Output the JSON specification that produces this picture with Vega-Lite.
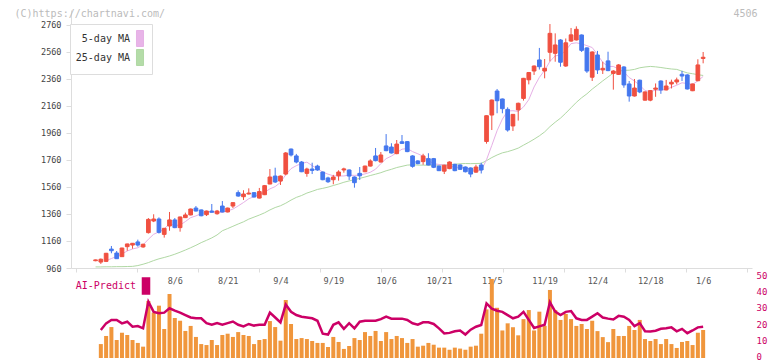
{
 "$schema": "https://vega.github.io/schema/vega-lite/v6.json",
 "width": 681, "height": 348,
 "autosize": {"type": "none"},
 "padding": {"left": 71, "top": 10, "right": 20, "bottom": 3},
 "background": "white",
 "config": {"view": {"stroke": null}, "axis": {"labelFont": "DejaVu Sans Mono", "titleFont": "DejaVu Sans Mono", "grid": false, "labelOverlap": false}, "legend": {"labelFont": "DejaVu Sans Mono"}},
 "data": {"values": [
{"d":"2025-07-15","o":1014,"h":1022,"l":1010,"c":1020,"m5":null,"m25":968,"vol":null,"ai":null},
{"d":"2025-07-16","o":1004,"h":1030,"l":990,"c":1025,"m5":null,"m25":968,"vol":8.6,"ai":17.3},
{"d":"2025-07-17","o":1009,"h":1072,"l":1004,"c":1069,"m5":1015,"m25":969,"vol":13.6,"ai":21.4},
{"d":"2025-07-18","o":1100,"h":1123,"l":1069,"c":1088,"m5":1030,"m25":969,"vol":19.1,"ai":23.5},
{"d":"2025-07-22","o":1071,"h":1086,"l":1027,"c":1029,"m5":1046,"m25":970,"vol":11.1,"ai":23.5},
{"d":"2025-07-23","o":1044,"h":1110,"l":1042,"c":1108,"m5":1064,"m25":970,"vol":15.6,"ai":21.4},
{"d":"2025-07-24","o":1118,"h":1140,"l":1088,"c":1138,"m5":1086,"m25":971,"vol":14.2,"ai":22.4},
{"d":"2025-07-25","o":1130,"h":1145,"l":1103,"c":1143,"m5":1101,"m25":972,"vol":11.1,"ai":19.3},
{"d":"2025-07-28","o":1153,"h":1170,"l":1118,"c":1130,"m5":1110,"m25":978,"vol":9.3,"ai":19.7},
{"d":"2025-07-29","o":1116,"h":1140,"l":1110,"c":1136,"m5":1131,"m25":988,"vol":7.0,"ai":18.3},
{"d":"2025-07-30","o":1222,"h":1330,"l":1215,"c":1320,"m5":1173,"m25":1000,"vol":35.2,"ai":34.8},
{"d":"2025-07-31","o":1308,"h":1358,"l":1300,"c":1323,"m5":1210,"m25":1015,"vol":28.0,"ai":28.5},
{"d":"2025-08-01","o":1323,"h":1335,"l":1215,"c":1224,"m5":1227,"m25":1028,"vol":32.3,"ai":27.6},
{"d":"2025-08-04","o":1209,"h":1256,"l":1185,"c":1254,"m5":1251,"m25":1038,"vol":17.9,"ai":28.0},
{"d":"2025-08-05","o":1271,"h":1375,"l":1236,"c":1316,"m5":1287,"m25":1049,"vol":39.5,"ai":30.7},
{"d":"2025-08-06","o":1316,"h":1330,"l":1255,"c":1259,"m5":1275,"m25":1062,"vol":24.7,"ai":29.2},
{"d":"2025-08-07","o":1259,"h":1340,"l":1229,"c":1338,"m5":1278,"m25":1077,"vol":23.0,"ai":28.0},
{"d":"2025-08-08","o":1333,"h":1370,"l":1330,"c":1353,"m5":1304,"m25":1093,"vol":16.7,"ai":26.5},
{"d":"2025-08-12","o":1353,"h":1400,"l":1350,"c":1397,"m5":1333,"m25":1110,"vol":19.8,"ai":25.0},
{"d":"2025-08-13","o":1404,"h":1419,"l":1378,"c":1382,"m5":1346,"m25":1128,"vol":13.0,"ai":24.5},
{"d":"2025-08-14","o":1390,"h":1393,"l":1343,"c":1347,"m5":1363,"m25":1148,"vol":8.6,"ai":24.5},
{"d":"2025-08-15","o":1355,"h":1385,"l":1345,"c":1382,"m5":1372,"m25":1165,"vol":8.0,"ai":21.5},
{"d":"2025-08-18","o":1382,"h":1434,"l":1370,"c":1373,"m5":1376,"m25":1183,"vol":11.1,"ai":20.5},
{"d":"2025-08-19","o":1362,"h":1390,"l":1355,"c":1382,"m5":1373,"m25":1205,"vol":8.0,"ai":21.5},
{"d":"2025-08-20","o":1419,"h":1456,"l":1372,"c":1375,"m5":1372,"m25":1236,"vol":14.2,"ai":20.5},
{"d":"2025-08-21","o":1375,"h":1407,"l":1372,"c":1404,"m5":1383,"m25":1252,"vol":15.0,"ai":21.5},
{"d":"2025-08-22","o":1419,"h":1446,"l":1404,"c":1444,"m5":1396,"m25":1269,"vol":13.0,"ai":22.5},
{"d":"2025-08-25","o":1518,"h":1535,"l":1488,"c":1493,"m5":1420,"m25":1286,"vol":16.0,"ai":20.5},
{"d":"2025-08-26","o":1488,"h":1536,"l":1464,"c":1508,"m5":1445,"m25":1302,"vol":14.2,"ai":19.5},
{"d":"2025-08-27","o":1508,"h":1550,"l":1505,"c":1515,"m5":1473,"m25":1322,"vol":13.6,"ai":21.0},
{"d":"2025-08-28","o":1518,"h":1522,"l":1482,"c":1486,"m5":1489,"m25":1337,"vol":8.6,"ai":20.0},
{"d":"2025-08-29","o":1478,"h":1553,"l":1475,"c":1526,"m5":1506,"m25":1352,"vol":11.1,"ai":20.5},
{"d":"2025-09-01","o":1503,"h":1575,"l":1500,"c":1570,"m5":1521,"m25":1369,"vol":11.7,"ai":20.5},
{"d":"2025-09-02","o":1582,"h":1693,"l":1580,"c":1634,"m5":1546,"m25":1390,"vol":22.8,"ai":28.0},
{"d":"2025-09-03","o":1641,"h":1703,"l":1590,"c":1597,"m5":1563,"m25":1408,"vol":19.1,"ai":25.0},
{"d":"2025-09-04","o":1604,"h":1645,"l":1575,"c":1641,"m5":1594,"m25":1421,"vol":10.7,"ai":22.0},
{"d":"2025-09-05","o":1656,"h":1819,"l":1647,"c":1812,"m5":1651,"m25":1440,"vol":35.8,"ai":33.0},
{"d":"2025-09-08","o":1841,"h":1845,"l":1786,"c":1797,"m5":1696,"m25":1463,"vol":21.0,"ai":28.5},
{"d":"2025-09-09","o":1790,"h":1805,"l":1735,"c":1745,"m5":1718,"m25":1483,"vol":11.7,"ai":26.5},
{"d":"2025-09-10","o":1745,"h":1752,"l":1670,"c":1673,"m5":1734,"m25":1497,"vol":12.3,"ai":25.5},
{"d":"2025-09-11","o":1661,"h":1703,"l":1636,"c":1693,"m5":1744,"m25":1515,"vol":11.7,"ai":25.0},
{"d":"2025-09-12","o":1693,"h":1740,"l":1656,"c":1683,"m5":1718,"m25":1528,"vol":10.5,"ai":24.5},
{"d":"2025-09-16","o":1715,"h":1725,"l":1680,"c":1686,"m5":1696,"m25":1542,"vol":9.3,"ai":23.0},
{"d":"2025-09-17","o":1671,"h":1675,"l":1610,"c":1614,"m5":1670,"m25":1550,"vol":9.3,"ai":15.0},
{"d":"2025-09-18","o":1627,"h":1636,"l":1590,"c":1599,"m5":1655,"m25":1559,"vol":6.8,"ai":14.5},
{"d":"2025-09-19","o":1614,"h":1650,"l":1580,"c":1634,"m5":1643,"m25":1571,"vol":13.0,"ai":20.5},
{"d":"2025-09-22","o":1643,"h":1684,"l":1607,"c":1671,"m5":1641,"m25":1582,"vol":9.9,"ai":22.0},
{"d":"2025-09-24","o":1686,"h":1703,"l":1666,"c":1694,"m5":1642,"m25":1595,"vol":5.6,"ai":18.0},
{"d":"2025-09-25","o":1686,"h":1690,"l":1612,"c":1641,"m5":1648,"m25":1605,"vol":7.4,"ai":21.5},
{"d":"2025-09-26","o":1634,"h":1638,"l":1555,"c":1592,"m5":1646,"m25":1614,"vol":12.3,"ai":18.3},
{"d":"2025-09-29","o":1661,"h":1708,"l":1612,"c":1643,"m5":1648,"m25":1624,"vol":11.1,"ai":22.4},
{"d":"2025-09-30","o":1673,"h":1718,"l":1670,"c":1715,"m5":1657,"m25":1634,"vol":16.0,"ai":23.0},
{"d":"2025-10-01","o":1715,"h":1765,"l":1712,"c":1753,"m5":1669,"m25":1645,"vol":13.6,"ai":23.0},
{"d":"2025-10-02","o":1790,"h":1849,"l":1750,"c":1755,"m5":1692,"m25":1655,"vol":16.7,"ai":23.0},
{"d":"2025-10-03","o":1745,"h":1819,"l":1742,"c":1797,"m5":1733,"m25":1666,"vol":10.5,"ai":24.0},
{"d":"2025-10-06","o":1864,"h":1952,"l":1825,"c":1829,"m5":1770,"m25":1680,"vol":16.0,"ai":25.5},
{"d":"2025-10-07","o":1856,"h":1884,"l":1808,"c":1812,"m5":1789,"m25":1691,"vol":11.7,"ai":24.3},
{"d":"2025-10-08","o":1807,"h":1908,"l":1803,"c":1878,"m5":1814,"m25":1704,"vol":13.6,"ai":24.3},
{"d":"2025-10-09","o":1895,"h":1945,"l":1880,"c":1883,"m5":1840,"m25":1713,"vol":12.3,"ai":24.3},
{"d":"2025-10-10","o":1896,"h":1900,"l":1818,"c":1822,"m5":1845,"m25":1722,"vol":9.3,"ai":23.5},
{"d":"2025-10-14","o":1790,"h":1795,"l":1703,"c":1713,"m5":1822,"m25":1725,"vol":11.7,"ai":21.4},
{"d":"2025-10-15","o":1753,"h":1758,"l":1728,"c":1733,"m5":1806,"m25":1722,"vol":7.0,"ai":20.6},
{"d":"2025-10-16","o":1748,"h":1806,"l":1725,"c":1790,"m5":1788,"m25":1722,"vol":7.6,"ai":22.0},
{"d":"2025-10-17","o":1770,"h":1810,"l":1720,"c":1723,"m5":1756,"m25":1721,"vol":9.3,"ai":22.0},
{"d":"2025-10-20","o":1770,"h":1775,"l":1700,"c":1706,"m5":1733,"m25":1722,"vol":8.2,"ai":21.0},
{"d":"2025-10-21","o":1715,"h":1718,"l":1678,"c":1681,"m5":1727,"m25":1722,"vol":6.4,"ai":18.3},
{"d":"2025-10-22","o":1677,"h":1725,"l":1656,"c":1721,"m5":1724,"m25":1723,"vol":6.4,"ai":15.2},
{"d":"2025-10-23","o":1696,"h":1750,"l":1692,"c":1745,"m5":1715,"m25":1726,"vol":5.1,"ai":15.5},
{"d":"2025-10-24","o":1728,"h":1732,"l":1677,"c":1681,"m5":1707,"m25":1728,"vol":6.4,"ai":16.5},
{"d":"2025-10-27","o":1723,"h":1728,"l":1686,"c":1691,"m5":1704,"m25":1732,"vol":5.8,"ai":17.0},
{"d":"2025-10-28","o":1708,"h":1712,"l":1668,"c":1673,"m5":1702,"m25":1734,"vol":5.1,"ai":14.5},
{"d":"2025-10-29","o":1701,"h":1705,"l":1632,"c":1656,"m5":1689,"m25":1733,"vol":7.0,"ai":17.5},
{"d":"2025-10-30","o":1670,"h":1725,"l":1665,"c":1708,"m5":1682,"m25":1734,"vol":7.6,"ai":19.3},
{"d":"2025-10-31","o":1723,"h":1740,"l":1660,"c":1686,"m5":1683,"m25":1735,"vol":15.0,"ai":20.4},
{"d":"2025-11-04","o":1897,"h":2090,"l":1881,"c":2088,"m5":1762,"m25":1755,"vol":30.0,"ai":33.7},
{"d":"2025-11-05","o":2093,"h":2208,"l":1982,"c":2204,"m5":1868,"m25":1778,"vol":48.8,"ai":30.5},
{"d":"2025-11-06","o":2271,"h":2286,"l":2106,"c":2199,"m5":1977,"m25":1797,"vol":31.0,"ai":29.2},
{"d":"2025-11-07","o":2212,"h":2215,"l":2106,"c":2140,"m5":2063,"m25":1813,"vol":17.0,"ai":28.5},
{"d":"2025-11-10","o":2135,"h":2150,"l":1970,"c":1982,"m5":2123,"m25":1822,"vol":21.4,"ai":26.5},
{"d":"2025-11-11","o":2012,"h":2100,"l":1975,"c":2098,"m5":2125,"m25":1834,"vol":19.0,"ai":24.5},
{"d":"2025-11-12","o":2131,"h":2185,"l":2052,"c":2180,"m5":2120,"m25":1848,"vol":14.0,"ai":25.5},
{"d":"2025-11-13","o":2216,"h":2368,"l":2200,"c":2365,"m5":2153,"m25":1870,"vol":24.0,"ai":28.5},
{"d":"2025-11-14","o":2354,"h":2412,"l":2320,"c":2408,"m5":2207,"m25":1891,"vol":29.6,"ai":23.5},
{"d":"2025-11-17","o":2419,"h":2460,"l":2390,"c":2456,"m5":2301,"m25":1914,"vol":17.0,"ai":18.5},
{"d":"2025-11-18","o":2501,"h":2590,"l":2430,"c":2451,"m5":2372,"m25":1939,"vol":28.6,"ai":19.5},
{"d":"2025-11-19","o":2419,"h":2508,"l":2365,"c":2439,"m5":2424,"m25":1968,"vol":19.8,"ai":20.5},
{"d":"2025-11-20","o":2558,"h":2767,"l":2490,"c":2698,"m5":2490,"m25":2007,"vol":42.0,"ai":34.4},
{"d":"2025-11-21","o":2550,"h":2698,"l":2488,"c":2612,"m5":2531,"m25":2040,"vol":29.6,"ai":28.6},
{"d":"2025-11-25","o":2649,"h":2655,"l":2451,"c":2484,"m5":2537,"m25":2070,"vol":23.5,"ai":26.5},
{"d":"2025-11-26","o":2456,"h":2660,"l":2450,"c":2628,"m5":2572,"m25":2107,"vol":27.2,"ai":28.5},
{"d":"2025-11-27","o":2641,"h":2738,"l":2635,"c":2687,"m5":2622,"m25":2147,"vol":24.0,"ai":29.0},
{"d":"2025-11-28","o":2649,"h":2750,"l":2645,"c":2728,"m5":2628,"m25":2187,"vol":19.8,"ai":24.5},
{"d":"2025-12-01","o":2686,"h":2690,"l":2560,"c":2572,"m5":2620,"m25":2221,"vol":21.0,"ai":23.5},
{"d":"2025-12-02","o":2590,"h":2595,"l":2405,"c":2419,"m5":2607,"m25":2250,"vol":17.9,"ai":23.5},
{"d":"2025-12-03","o":2373,"h":2565,"l":2345,"c":2560,"m5":2593,"m25":2285,"vol":23.0,"ai":25.5},
{"d":"2025-12-04","o":2538,"h":2568,"l":2397,"c":2427,"m5":2541,"m25":2315,"vol":16.6,"ai":27.6},
{"d":"2025-12-05","o":2427,"h":2488,"l":2397,"c":2439,"m5":2483,"m25":2346,"vol":12.9,"ai":25.0},
{"d":"2025-12-08","o":2494,"h":2562,"l":2418,"c":2422,"m5":2453,"m25":2375,"vol":9.8,"ai":24.3},
{"d":"2025-12-09","o":2401,"h":2425,"l":2281,"c":2419,"m5":2453,"m25":2404,"vol":17.9,"ai":23.8},
{"d":"2025-12-10","o":2394,"h":2470,"l":2390,"c":2464,"m5":2434,"m25":2419,"vol":13.6,"ai":26.0},
{"d":"2025-12-11","o":2449,"h":2455,"l":2295,"c":2316,"m5":2412,"m25":2424,"vol":13.6,"ai":25.5},
{"d":"2025-12-12","o":2323,"h":2345,"l":2192,"c":2234,"m5":2371,"m25":2425,"vol":19.8,"ai":23.5},
{"d":"2025-12-15","o":2234,"h":2360,"l":2230,"c":2293,"m5":2345,"m25":2431,"vol":17.3,"ai":19.7},
{"d":"2025-12-16","o":2351,"h":2355,"l":2255,"c":2264,"m5":2314,"m25":2443,"vol":23.5,"ai":21.5},
{"d":"2025-12-17","o":2203,"h":2268,"l":2200,"c":2264,"m5":2274,"m25":2449,"vol":11.7,"ai":16.5},
{"d":"2025-12-18","o":2203,"h":2278,"l":2195,"c":2274,"m5":2266,"m25":2453,"vol":10.5,"ai":16.4},
{"d":"2025-12-19","o":2284,"h":2327,"l":2228,"c":2293,"m5":2278,"m25":2450,"vol":11.7,"ai":16.8},
{"d":"2025-12-22","o":2345,"h":2350,"l":2250,"c":2279,"m5":2275,"m25":2445,"vol":8.6,"ai":18.0},
{"d":"2025-12-23","o":2279,"h":2353,"l":2275,"c":2308,"m5":2284,"m25":2439,"vol":11.7,"ai":18.3},
{"d":"2025-12-24","o":2323,"h":2355,"l":2290,"c":2336,"m5":2298,"m25":2434,"vol":8.6,"ai":18.9},
{"d":"2025-12-25","o":2338,"h":2370,"l":2320,"c":2353,"m5":2314,"m25":2431,"vol":6.2,"ai":16.5},
{"d":"2025-12-26","o":2395,"h":2420,"l":2345,"c":2382,"m5":2332,"m25":2418,"vol":9.9,"ai":18.0},
{"d":"2025-12-29","o":2390,"h":2395,"l":2282,"c":2286,"m5":2326,"m25":2405,"vol":10.5,"ai":15.3},
{"d":"2025-12-30","o":2273,"h":2326,"l":2270,"c":2323,"m5":2320,"m25":2399,"vol":8.0,"ai":17.0},
{"d":"2026-01-05","o":2347,"h":2506,"l":2344,"c":2464,"m5":2346,"m25":2392,"vol":15.6,"ai":18.9},
{"d":"2026-01-06","o":2512,"h":2560,"l":2476,"c":2521,"m5":2379,"m25":2386,"vol":17.3,"ai":19.3}
 ]},
 "transform": [{"window": [{"op": "row_number", "as": "i"}]}],
 "resolve": {"scale": {"y": "independent", "color": "independent"}, "axis": {"x": "independent"}},
 "layer": [
  {"layer": [
   {"transform": [{"fold": ["m5", "m25"], "as": ["k", "val"]}, {"filter": "isValid(datum.val)"}],
    "mark": {"type": "line", "strokeWidth": 1},
    "encoding": {
     "x": {"field": "i", "type": "quantitative", "scale": {"domain": [-2.7, 124.3], "nice": false, "zero": false},
       "axis": {"orient": "bottom", "offset": -90, "values": [16, 26, 36, 46, 56, 66, 76, 86, 96, 106, 116],
         "labelExpr": "['8/6','8/21','9/4','9/19','10/6','10/21','11/5','11/19','12/4','12/18','1/6'][round((datum.value-16)/10)]",
         "ticks": false, "domain": true, "domainColor": "#dddddd", "labelFontSize": 8.5, "labelColor": "#555555",
         "labelPadding": 8, "labelFlush": false, "labelOverlap": false, "title": null}},
     "y": {"field": "val", "type": "quantitative", "scale": {"domain": [960, 2871], "range": [258, 0], "nice": false, "zero": false},
       "axis": {"orient": "left", "values": [960, 1160, 1360, 1560, 1760, 1960, 2160, 2360, 2560, 2760], "format": "d",
         "labelOverlap": false, "labelFlush": false,
         "labelFontSize": 8.5, "labelColor": "#444444", "tickColor": "#dddddd", "tickSize": 5, "labelPadding": 5,
         "domainColor": "#dddddd",
         "title": "(C)https://chartnavi.com/", "titleAngle": 0, "titleX": -57, "titleY": 6, "titleAlign": "left",
         "titleBaseline": "alphabetic", "titleColor": "#bbbbbb", "titleFontSize": 10, "titleFontWeight": "normal"}},
     "color": {"field": "k", "type": "nominal", "scale": {"domain": ["m5", "m25"], "range": ["#e6b0e6", "#b0d8a4"]},
       "legend": {"orient": "none", "legendX": -1, "legendY": 14, "title": null,
         "labelExpr": "datum.value == 'm5' ? '5-day MA' : '25-day MA'",
         "labelFontSize": 10, "labelColor": "#333333", "labelAlign": "right", "labelOffset": -18.5,
         "symbolType": "M-0.44,-1H0.44V1H-0.44Z", "symbolSize": 256, "symbolStrokeWidth": 1, "symbolOffset": 55.5,
         "rowPadding": -3, "strokeColor": "#dddddd", "fillColor": "#ffffff", "padding": 6,
         "encode": {"symbols": {"update": {"fill": {"signal": "datum.value == 'm5' ? '#e8b4e8' : '#b4dca8'"}, "stroke": {"value": "#555555"}}}}}}
    }},
   {"mark": {"type": "rule", "strokeWidth": 1},
    "encoding": {
     "x": {"field": "i", "type": "quantitative"},
     "y": {"field": "l", "type": "quantitative", "axis": {"orient": "left", "values": [960, 1160, 1360, 1560, 1760, 1960, 2160, 2360, 2560, 2760], "format": "d", "labelOverlap": false}},
     "y2": {"field": "h"},
     "color": {"condition": {"test": "datum.c >= datum.o", "value": "#f05040"}, "value": "#4477ee"}
    }},
   {"mark": {"type": "bar", "size": 3.7, "strokeWidth": 1},
    "encoding": {
     "x": {"field": "i", "type": "quantitative"},
     "y": {"field": "o", "type": "quantitative", "axis": {"orient": "left", "values": [960, 1160, 1360, 1560, 1760, 1960, 2160, 2360, 2560, 2760], "format": "d", "labelOverlap": false}},
     "y2": {"field": "c"},
     "color": {"condition": {"test": "datum.c >= datum.o", "value": "#f05040"}, "value": "#4477ee"},
     "stroke": {"condition": {"test": "datum.c >= datum.o", "value": "#f05040"}, "value": "#4477ee"}
    }}
  ]},
  {"layer": [
   {"mark": {"type": "bar", "size": 4, "color": "#f0963c"},
    "encoding": {
     "x": {"field": "i", "type": "quantitative", "scale": {"domain": [-2.7, 124.3], "nice": false, "zero": false},
       "axis": {"orient": "bottom", "offset": -90, "values": [-2.7, 8.85, 20.39, 31.94, 43.48, 55.03, 66.57, 78.12, 89.66, 101.21, 112.75, 124.3],
         "labels": false, "domain": false, "ticks": true, "tickColor": "#dddddd", "tickSize": 4, "title": null}},
     "y": {"field": "vol", "type": "quantitative", "scale": {"domain": [0, 50], "range": [348, 267], "nice": false},
       "axis": {"orient": "right", "values": [0, 10, 20, 30, 40, 50], "labelColor": "#cc0066", "labelFontSize": 9,
         "labelOffset": -1.5, "labelOverlap": false, "labelFlush": false,
         "domain": false, "ticks": false, "labelPadding": 4,
         "title": "4506", "titleAngle": 0, "titleX": 5, "titleY": 6, "titleAlign": "right", "titleBaseline": "alphabetic",
         "titleColor": "#bbbbbb", "titleFontSize": 10, "titleFontWeight": "normal"}}
    }},
   {"mark": {"type": "line", "strokeWidth": 2.5},
    "encoding": {
     "x": {"field": "i", "type": "quantitative"},
     "y": {"field": "ai", "type": "quantitative"},
     "color": {"datum": "AI-Predict", "scale": {"range": ["#cc0066"]},
       "legend": {"orient": "none", "legendX": 66, "legendY": 267, "title": null,
         "labelFontSize": 10, "labelColor": "#cc0066", "labelAlign": "right", "labelOffset": -19,
         "symbolType": "M-0.44,-1H0.44V1H-0.44Z", "symbolSize": 256, "padding": 0,
         "encode": {"symbols": {"update": {"fill": {"value": "#cc0066"}, "stroke": {"value": "#cc0066"}}}}}}
    }}
  ]}
 ]
}
